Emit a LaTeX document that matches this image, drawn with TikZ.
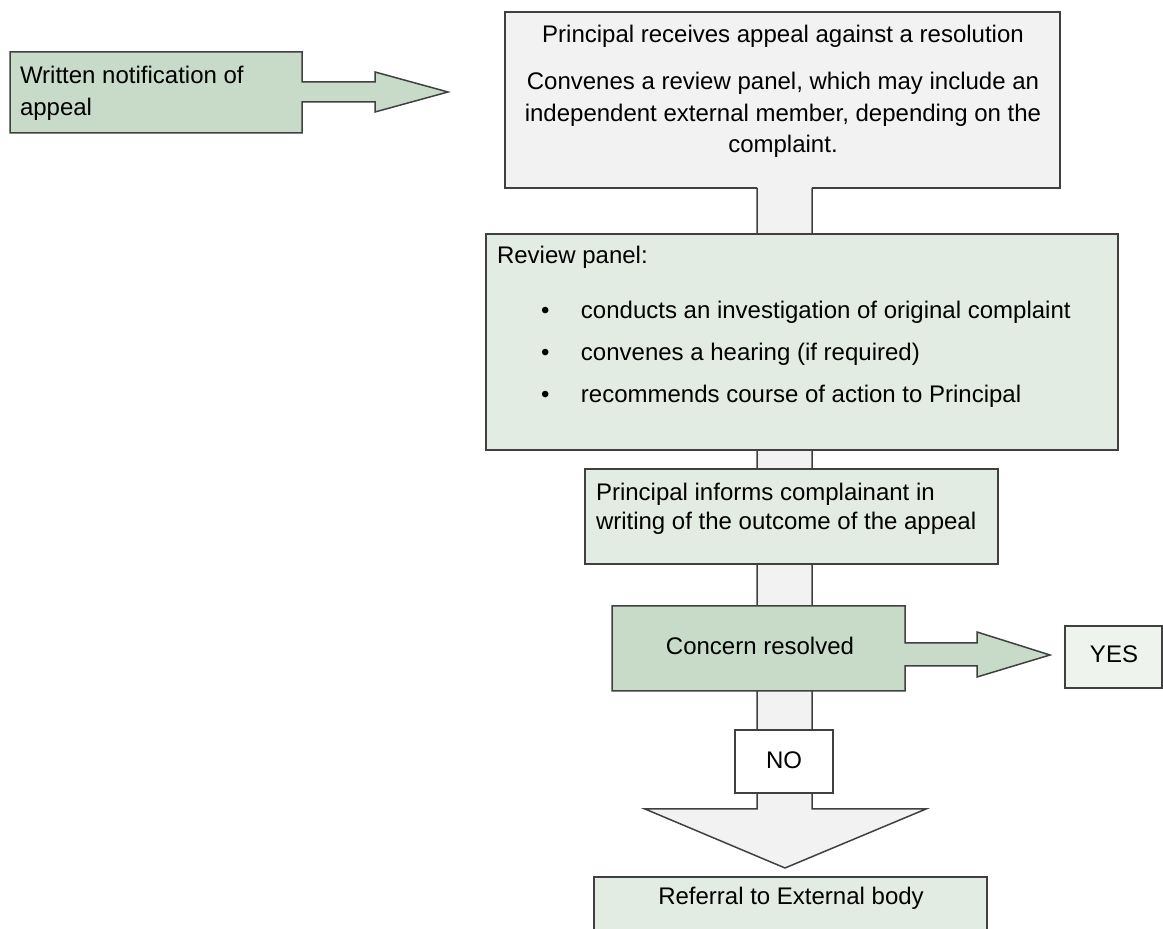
\documentclass[tikz,border=0pt]{standalone}
\usepackage{fontspec}
\setmainfont{Liberation Sans}
\usetikzlibrary{calc}
\newdimen\px \px=0.5pt
\definecolor{lineC}{HTML}{404040}
\definecolor{gfill}{HTML}{F2F2F2}
\definecolor{dgreen}{HTML}{C8DBC8}
\definecolor{lgreen}{HTML}{E3ECE3}
\definecolor{vlgreen}{HTML}{EEF3EE}
\begin{document}
\begin{tikzpicture}[x=0.5pt,y=-0.5pt,
  outl/.style={draw=lineC, line width=0.75pt, line join=miter},
  boxshape/.style={rectangle, inner sep=0pt, outer sep=0pt, anchor=north west},
  framed/.style={boxshape, outl},
  txt/.style={inner sep=0pt, outer sep=0pt, text=black, font=\fontsize{12pt}{15.75pt}\selectfont}]
\useasboundingbox (0,0) rectangle (1163,929);

% coordinates of the vertical shaft
\coordinate (shL) at (757,0);
\coordinate (shR) at (812,0);
\coordinate (headL) at (645,809);
\coordinate (headR) at (926,809);
\coordinate (tip) at (785,868);

% top box (fill only; outline drawn after the shaft)
\node[boxshape, fill=gfill, minimum width=555\px, minimum height=176\px] (top) at (505,12) {};

% shaft with big arrow head
\draw[outl, fill=gfill] (top.south -| shL) -- (headL -| shL) -- (headL) -- (tip) -- (headR) -- (headR -| shR) -- (top.south -| shR);
\draw[outl] (top.south -| shL) -- (top.south west) -- (top.north west) -- (top.north east) -- (top.south east) -- (top.south -| shR);

% written notification callout
\node[boxshape, minimum width=292\px, minimum height=81\px] (wn) at (10,52) {};
\draw[outl, fill=dgreen] (wn.north west) -- (wn.north east) -- ++(0,30) -- ++(73,0) -- ++(0,-10) -- ++(73,20) -- ++(-73,20) -- ++(0,-10) -- ++(-73,0) -- (wn.south east) -- (wn.south west) -- cycle;

% other boxes
\node[framed, fill=lgreen, minimum width=632\px, minimum height=216\px] (rp) at (486,234) {};
\node[framed, fill=lgreen, minimum width=413\px, minimum height=95\px] (inf) at (585,469) {};
\node[boxshape, minimum width=293\px, minimum height=85\px] (cr) at (612,606) {};
\draw[outl, fill=dgreen] (cr.north west) -- (cr.north east) -- ++(0,37) -- ++(72,0) -- ++(0,-11) -- ++(73,23) -- ++(-73,22) -- ++(0,-11) -- ++(-72,0) -- (cr.south east) -- (cr.south west) -- cycle;
\node[framed, fill=vlgreen, minimum width=97\px, minimum height=62\px] (yes) at (1065,626) {};
\node[framed, fill=white, minimum width=98\px, minimum height=63\px] (no) at (735,730) {};
\node[framed, fill=lgreen, minimum width=393\px, minimum height=80\px] (ref) at (594,877) {};

% texts (multi-line nodes: base = baseline of last line)
\node[txt, anchor=base west, align=left, font=\fontsize{12pt}{16pt}\selectfont] (wnT) at (20,116) {Written notification of\\appeal};
\node[txt, anchor=base] (topT1) at (783,43) {Principal receives appeal against a resolution};
\node[txt, anchor=base, align=center] (topT2) at (783,153) {Convenes a review panel, which may include an\\independent external member, depending on the\\complaint.};
\node[txt, anchor=base west] (rpT) at (497,264) {Review panel:};
\node[txt, anchor=base west, align=left, font=\fontsize{12pt}{21pt}\selectfont] (rpB) at (541,403) {\makebox[20pt][l]{•}conducts an investigation of original complaint\\\makebox[20pt][l]{•}convenes a hearing (if required)\\\makebox[20pt][l]{•}recommends course of action to Principal};
\node[txt, anchor=base west, align=left, font=\fontsize{12pt}{14.5pt}\selectfont] (infT) at (596,530) {Principal informs complainant in\\writing of the outcome of the appeal};
\node[txt, anchor=base] (crT) at (760,655) {Concern resolved};
\node[txt, anchor=base] (yesT) at (1114,663) {YES};
\node[txt, anchor=base] (noT) at (784,769) {NO};
\node[txt, anchor=base] (refT) at (791,905) {Referral to External body};
\end{tikzpicture}
\end{document}
